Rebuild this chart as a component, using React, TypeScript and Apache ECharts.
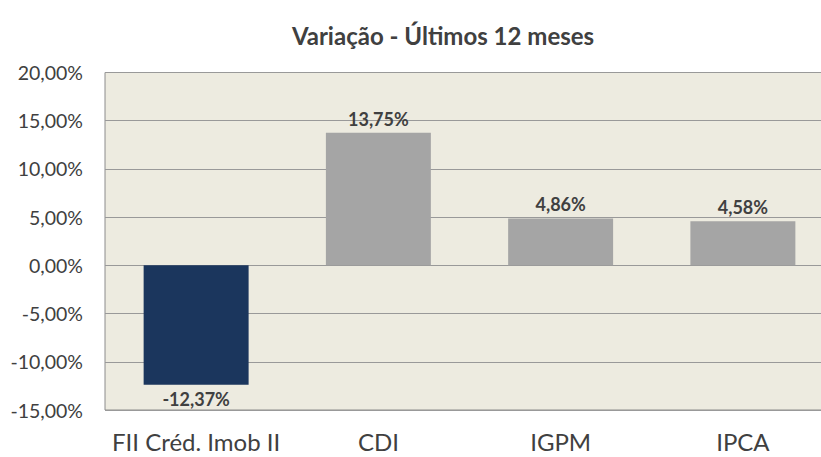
import React, { useEffect, useRef } from "react";
import * as echarts from "echarts";

const categories = ["FII Créd. Imob II", "CDI", "IGPM", "IPCA"];
const values = [-12.37, 13.75, 4.86, 4.58];
const barColors = ["#1B365D", "#A5A5A5", "#A5A5A5", "#A5A5A5"];
const titleText = "Variação - Últimos 12 meses";

const FONT = "Lato, 'Open Sans', sans-serif";

function fmt(v: number): string {
  return v.toFixed(2).replace(".", ",") + "%";
}

export default function App() {
  const ref = useRef<HTMLDivElement>(null);
  useEffect(() => {
    if (!ref.current) return;
    const chart = echarts.init(ref.current, undefined, { renderer: "svg" });
    chart.setOption({
      animation: false,
      backgroundColor: "#ffffff",
      textStyle: { fontFamily: FONT },
      title: {
        text: titleText,
        left: 438,
        top: 18,
        textAlign: "center",
        textStyle: { fontFamily: FONT, fontSize: 24, fontWeight: "bold", color: "#404040" },
      },
      grid: {
        left: 105,
        top: 72.5,
        bottom: 47,
        right: 0,
        show: true,
        backgroundColor: "#EDEBE0",
        borderColor: "#8C8C8C",
        borderWidth: 1,
      },
      xAxis: {
        type: "category",
        data: categories,
        position: "bottom",
        axisLine: { show: false, onZero: false },
        axisTick: { show: false },
        axisLabel: { interval: 0, fontFamily: FONT, fontSize: 24, color: "#404040", margin: 19 },
      },
      yAxis: {
        type: "value",
        min: -15,
        max: 20,
        interval: 5,
        axisLine: { show: false },
        axisTick: { show: false },
        splitLine: { lineStyle: { color: "#999999", width: 1 } },
        axisLabel: {
          fontFamily: FONT,
          fontSize: 19.5,
          color: "#404040",
          margin: 22,
          formatter: (v: number) => fmt(v),
        },
      },
      series: [
        {
          type: "bar",
          barWidth: "57.6%",
          data: values.map((v, i) => ({
            value: v,
            itemStyle: { color: barColors[i] },
            label: { position: v < 0 ? "bottom" : "top" },
          })),
          label: {
            show: true,
            position: "top",
            distance: 5,
            fontFamily: FONT,
            fontSize: 18,
            fontWeight: "bold",
            color: "#404040",
            formatter: (p: any) => fmt(p.value),
          },
        },
      ],
    });
    return () => chart.dispose();
  }, []);
  return (
    <div
      style={{
        position: "absolute",
        left: 0,
        top: 0,
        width: 821,
        height: 457,
        overflow: "hidden",
      }}
    >
      <div ref={ref} style={{ width: 834, height: 457 }} />
    </div>
  );
}
